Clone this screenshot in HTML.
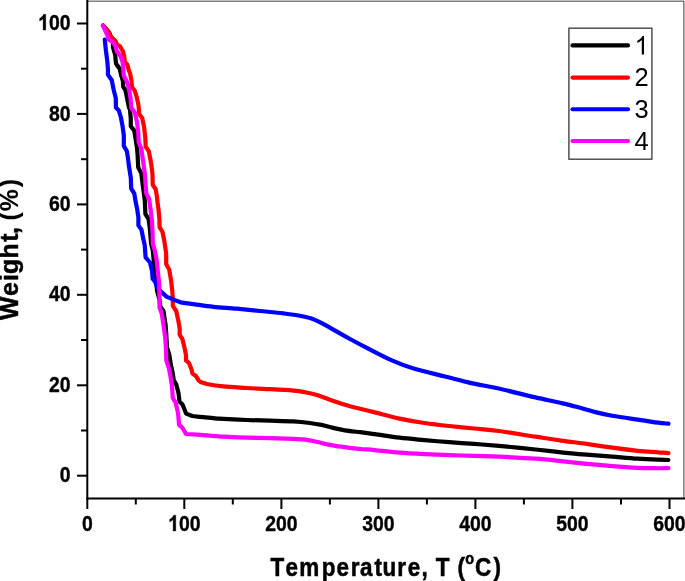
<!DOCTYPE html>
<html><head><meta charset="utf-8">
<style>
html,body{margin:0;padding:0;background:#fff;}
body{width:685px;height:581px;overflow:hidden;}
svg{display:block;will-change:transform;}
text{font-family:"Liberation Sans",sans-serif;fill:#000;}
.tl{font-size:20px;font-weight:bold;stroke:#000;stroke-width:0.35px;}
.t{stroke:#000;stroke-width:2;}
.c{fill:none;stroke-width:4.2;stroke-linecap:round;stroke-linejoin:round;}
.ax{font-size:22.5px;font-weight:bold;}
.lg{font-size:25.5px;}
.bd{stroke:#000;stroke-width:0.45px;}
</style></head><body>
<svg width="685" height="581" viewBox="0 0 685 581">
<rect width="685" height="581" fill="#fff"/>
<!-- gray frame top/right -->
<g shape-rendering="crispEdges">
<rect x="88" y="0" width="596" height="1" fill="#bcbcbc"/>
<rect x="88" y="1" width="596" height="1" fill="#828282"/>
<rect x="683" y="1" width="1" height="497" fill="#858585"/>
<rect x="684" y="1" width="1" height="497" fill="#b4b4b4"/>
<rect x="683" y="1" width="1" height="1" fill="#5a5a5a"/>
</g>
<!-- curves -->
<path class="c" stroke="#000" d="M103.0,25.5 L109.1,32.3 L112.9,42.0 L113.0,47.1 L115.2,55.0 L116.0,63.5 L118.6,67.3 L119.7,68.9 L121.0,74.6 L122.9,80.8 L123.2,86.9 L125.4,90.0 L127.1,98.3 L128.9,107.0 L130.0,110.0 L130.8,118.8 L130.8,126.2 L134.3,130.6 L135.6,138.9 L137.0,147.7 L137.6,155.0 L138.2,167.3 L141.3,173.4 L142.6,183.9 L143.9,193.5 L144.8,200.5 L145.4,214.0 L148.5,218.8 L149.8,228.0 L150.6,237.7 L151.1,243.8 L152.8,250.3 L153.5,258.1 L154.8,271.3 L156.1,280.0 L157.0,290.5 L159.5,300.0 L160.5,307.0 L163.5,311.0 L165.6,325.0 L166.3,335.0 L167.0,347.3 L169.2,354.3 L170.9,364.8 L172.8,373.5 L173.7,380.0 L176.2,384.3 L178.5,393.1 L179.5,401.5 L182.5,404.5 L186.1,413.6 L192.3,416.0 C194.1,416.2 199.4,416.8 203.2,417.2 C207.0,417.6 211.6,418.1 215.0,418.4 C218.4,418.7 218.1,418.6 223.4,418.9 C228.7,419.2 238.9,419.7 246.7,420.0 C254.5,420.3 262.3,420.5 270.1,420.7 C277.9,420.9 286.8,421.0 293.4,421.4 C300.0,421.8 305.1,422.4 309.8,423.0 C314.5,423.6 317.6,424.1 321.5,424.9 C325.4,425.7 329.2,427.0 333.1,427.9 C337.0,428.8 340.3,429.6 344.8,430.3 C349.3,431.0 355.0,431.6 360.0,432.2 C365.0,432.8 368.2,433.3 374.8,434.2 C381.4,435.1 391.3,436.7 399.6,437.7 C407.9,438.7 416.2,439.4 424.5,440.2 C432.8,440.9 441.0,441.6 449.3,442.2 C457.6,442.8 465.8,443.3 474.1,443.9 C482.4,444.5 488.7,445.0 498.9,445.9 C509.1,446.8 525.1,448.4 535.5,449.5 C545.9,450.6 552.6,451.4 561.1,452.3 C569.6,453.2 578.1,453.9 586.6,454.6 C595.1,455.3 603.7,455.9 612.2,456.6 C620.7,457.3 630.0,458.2 637.7,458.7 C645.4,459.2 653.1,459.5 658.2,459.7 C663.3,459.9 666.7,459.9 668.4,460.0"/>
<path class="c" stroke="#f00" d="M103.0,25.3 L108.1,31.4 L111.2,37.1 L115.6,41.0 L116.9,44.5 L120.0,46.3 L123.0,51.5 L124.3,56.8 L124.8,62.0 L127.4,64.7 L128.7,70.0 L130.2,73.8 L131.5,80.8 L132.0,87.3 L134.6,90.4 L136.8,97.4 L138.5,105.3 L138.9,110.0 L139.2,113.9 L142.2,117.9 L144.0,126.6 L145.3,138.0 L145.7,146.8 L148.8,151.2 L150.5,160.0 L151.3,164.6 L152.5,174.3 L152.7,184.8 L155.7,189.2 L157.0,197.0 L157.5,202.0 L158.5,209.6 L159.4,219.3 L159.6,227.1 L162.5,232.0 L164.2,240.3 L165.2,247.0 L166.2,253.8 L166.2,264.3 L169.2,269.5 L171.0,280.0 L172.3,291.0 L172.8,298.8 L172.8,305.8 L176.2,311.0 L178.3,320.6 L179.7,328.5 L179.7,334.7 L182.4,339.2 L184.2,346.4 L186.0,355.1 L186.0,360.4 L189.0,363.0 L191.7,370.0 L192.5,373.5 L195.6,375.7 L198.7,380.5 L200.5,382.0 L207.0,384.0 C209.7,384.4 216.8,385.7 223.4,386.4 C230.0,387.1 238.9,387.5 246.7,388.0 C254.5,388.5 262.3,388.8 270.1,389.2 C277.9,389.6 287.6,390.1 293.4,390.6 C299.2,391.1 301.2,391.5 305.1,392.2 C309.0,392.9 312.9,393.8 316.8,395.0 C320.7,396.2 324.6,397.8 328.5,399.2 C332.4,400.6 336.3,401.9 340.2,403.2 C344.1,404.4 346.0,405.2 351.8,406.7 C357.6,408.2 366.8,410.4 374.8,412.4 C382.8,414.4 391.3,416.8 399.6,418.6 C407.9,420.4 416.2,421.8 424.5,423.0 C432.8,424.2 441.0,425.1 449.3,426.0 C457.6,426.9 465.8,427.7 474.1,428.5 C482.4,429.3 488.7,429.6 498.9,431.0 C509.1,432.4 525.1,435.1 535.5,436.7 C545.9,438.3 552.6,439.4 561.1,440.6 C569.6,441.8 578.1,442.7 586.6,443.9 C595.1,445.1 603.7,446.5 612.2,447.7 C620.7,448.9 630.0,450.0 637.7,450.8 C645.4,451.6 653.1,451.9 658.2,452.3 C663.3,452.7 666.7,453.0 668.4,453.1"/>
<path class="c" stroke="#00f" d="M104.8,39.7 L105.9,50.6 L107.3,61.2 L108.0,70.0 L107.9,74.6 L111.8,80.3 L113.6,89.5 L115.8,98.3 L115.9,107.5 L118.8,110.5 L120.8,117.0 L122.5,125.8 L123.8,135.4 L123.8,145.9 L126.9,151.2 L128.2,160.0 L129.0,166.4 L130.8,177.8 L131.2,188.7 L134.3,193.5 L135.3,200.0 L137.1,208.8 L138.4,217.5 L138.4,225.4 L141.5,229.8 L143.2,238.5 L144.7,245.0 L145.6,257.3 L150.0,262.5 L152.1,271.3 L152.6,278.7 L155.2,281.8 L157.0,287.0 L160.0,290.5 L161.3,291.8 L166.5,296.6 L173.5,299.6 L180.5,302.3 L187.5,303.3 L195.0,304.3 C198.1,304.7 206.5,306.1 213.4,306.8 C220.3,307.5 228.9,308.0 236.7,308.7 C244.5,309.4 252.3,310.2 260.1,311.0 C267.9,311.8 276.8,312.6 283.4,313.4 C290.0,314.2 295.1,314.8 299.8,315.7 C304.5,316.6 308.0,317.3 311.5,318.5 C315.0,319.7 317.7,321.1 320.8,322.7 C323.9,324.2 327.0,326.0 330.2,327.8 C333.4,329.6 336.7,331.5 340.0,333.4 C343.3,335.3 345.6,336.6 350.0,339.0 C354.4,341.4 359.2,344.0 366.3,347.6 C373.4,351.2 384.6,357.2 392.5,360.7 C400.4,364.2 404.8,366.0 413.6,368.6 C422.4,371.2 435.5,374.1 445.1,376.5 C454.7,378.9 462.6,381.1 471.4,383.1 C480.1,385.1 486.9,385.9 497.6,388.3 C508.3,390.7 524.9,394.9 535.5,397.4 C546.1,399.8 554.3,401.4 561.1,403.0 C567.9,404.6 570.9,405.3 576.4,406.8 C581.9,408.3 588.3,410.4 594.3,411.9 C600.3,413.4 605.0,414.5 612.2,415.8 C619.4,417.1 630.0,418.5 637.7,419.6 C645.4,420.8 653.1,422.0 658.2,422.7 C663.3,423.4 666.7,423.5 668.4,423.7"/>
<path class="c" stroke="#f0f" d="M102.9,25.7 L106.8,34.0 L109.0,39.7 L112.5,41.9 L115.6,46.3 L116.9,51.5 L120.0,55.0 L122.6,62.0 L122.9,65.0 L123.8,75.5 L127.1,82.1 L129.3,90.4 L130.6,98.3 L131.3,107.9 L135.0,112.7 L137.0,122.3 L138.3,132.8 L138.7,142.4 L141.3,148.5 L142.9,160.0 L143.5,163.8 L144.8,173.4 L145.6,183.9 L146.3,193.5 L149.1,198.8 L150.6,209.6 L152.0,221.0 L152.6,233.3 L152.8,243.8 L154.8,250.3 L156.5,259.0 L157.8,271.3 L159.2,283.5 L159.5,299.6 L159.5,307.5 L161.7,313.6 L163.5,325.0 L165.1,337.0 L165.8,345.5 L166.3,360.4 L168.9,368.3 L170.4,376.0 L171.9,385.8 L172.8,397.9 L175.7,402.7 L178.1,413.6 L179.1,425.0 L182.1,427.4 L186.1,434.0 L197.2,434.6 C200.2,434.9 210.6,435.8 215.0,436.1 C219.4,436.5 218.1,436.4 223.4,436.7 C228.7,437.0 238.9,437.4 246.7,437.7 C254.5,437.9 262.3,438.0 270.1,438.2 C277.9,438.4 287.6,438.7 293.4,438.9 C299.2,439.1 301.6,439.2 305.1,439.6 C308.6,440.0 311.4,440.5 314.5,441.2 C317.6,441.9 320.3,442.8 323.8,443.6 C327.3,444.4 331.2,445.2 335.5,445.9 C339.8,446.6 345.4,447.3 349.5,447.8 C353.6,448.3 355.8,448.6 360.0,449.0 C364.2,449.4 368.2,449.5 374.8,450.1 C381.4,450.7 391.3,451.9 399.6,452.6 C407.9,453.3 416.2,453.7 424.5,454.1 C432.8,454.5 441.0,454.8 449.3,455.1 C457.6,455.4 465.8,455.6 474.1,455.8 C482.4,456.1 488.7,456.1 498.9,456.6 C509.1,457.1 525.1,457.9 535.5,458.7 C545.9,459.5 552.6,460.3 561.1,461.2 C569.6,462.1 578.1,463.0 586.6,463.8 C595.1,464.6 603.7,465.4 612.2,466.1 C620.7,466.8 630.9,467.5 637.7,467.8 C644.5,468.1 648.0,468.1 653.1,468.2 C658.2,468.3 665.9,468.2 668.4,468.2"/>
<!-- axes -->
<line x1="87.3" y1="0" x2="87.3" y2="499.4" class="t"/>
<line x1="86.3" y1="498.4" x2="685" y2="498.4" class="t"/>
<line x1="87.3" y1="498.4" x2="87.3" y2="509" class="t"/>
<text transform="translate(81.91,531.0) scale(0.97,1.1)" class="tl">0</text>
<line x1="135.8" y1="498.4" x2="135.8" y2="504.5" class="t"/>
<line x1="184.3" y1="498.4" x2="184.3" y2="509" class="t"/>
<path transform="translate(168.15,531.0) scale(0.009473,-0.010742)" d="M806 0L525 0L525 1059Q371 915 162 846L162 1101Q272 1137 401 1237.5Q530 1338 578 1472L806 1472Z" fill="#000" stroke="#000" stroke-width="0.35" vector-effect="non-scaling-stroke"/><text transform="translate(178.94,531.0) scale(0.97,1.1)" class="tl">00</text>
<line x1="232.8" y1="498.4" x2="232.8" y2="504.5" class="t"/>
<line x1="281.4" y1="498.4" x2="281.4" y2="509" class="t"/>
<text transform="translate(265.18,531.0) scale(0.97,1.1)" class="tl">200</text>
<line x1="329.9" y1="498.4" x2="329.9" y2="504.5" class="t"/>
<line x1="378.4" y1="498.4" x2="378.4" y2="509" class="t"/>
<text transform="translate(362.21,531.0) scale(0.97,1.1)" class="tl">300</text>
<line x1="426.9" y1="498.4" x2="426.9" y2="504.5" class="t"/>
<line x1="475.4" y1="498.4" x2="475.4" y2="509" class="t"/>
<text transform="translate(459.24,531.0) scale(0.97,1.1)" class="tl">400</text>
<line x1="523.9" y1="498.4" x2="523.9" y2="504.5" class="t"/>
<line x1="572.4" y1="498.4" x2="572.4" y2="509" class="t"/>
<text transform="translate(556.27,531.0) scale(0.97,1.1)" class="tl">500</text>
<line x1="621.0" y1="498.4" x2="621.0" y2="504.5" class="t"/>
<line x1="669.5" y1="498.4" x2="669.5" y2="509" class="t"/>
<text transform="translate(653.30,531.0) scale(0.97,1.1)" class="tl">600</text>
<line x1="77" y1="475.7" x2="87" y2="475.7" class="t"/>
<text transform="translate(59.71,482.3) scale(0.97,1.1)" class="tl">0</text>
<line x1="81" y1="430.5" x2="87" y2="430.5" class="t"/>
<line x1="77" y1="385.3" x2="87" y2="385.3" class="t"/>
<text transform="translate(48.92,391.9) scale(0.97,1.1)" class="tl">20</text>
<line x1="81" y1="340.0" x2="87" y2="340.0" class="t"/>
<line x1="77" y1="294.8" x2="87" y2="294.8" class="t"/>
<text transform="translate(48.92,301.4) scale(0.97,1.1)" class="tl">40</text>
<line x1="81" y1="249.6" x2="87" y2="249.6" class="t"/>
<line x1="77" y1="204.4" x2="87" y2="204.4" class="t"/>
<text transform="translate(48.92,211.0) scale(0.97,1.1)" class="tl">60</text>
<line x1="81" y1="159.2" x2="87" y2="159.2" class="t"/>
<line x1="77" y1="113.9" x2="87" y2="113.9" class="t"/>
<text transform="translate(48.92,120.5) scale(0.97,1.1)" class="tl">80</text>
<line x1="81" y1="68.7" x2="87" y2="68.7" class="t"/>
<line x1="77" y1="23.5" x2="87" y2="23.5" class="t"/>
<path transform="translate(38.13,30.1) scale(0.009473,-0.010742)" d="M806 0L525 0L525 1059Q371 915 162 846L162 1101Q272 1137 401 1237.5Q530 1338 578 1472L806 1472Z" fill="#000" stroke="#000" stroke-width="0.35" vector-effect="non-scaling-stroke"/><text transform="translate(48.92,30.1) scale(0.97,1.1)" class="tl">00</text>
<!-- legend -->
<rect x="568.9" y="28.2" width="83" height="131" fill="#fff" stroke="#444" stroke-width="1.4"/>
<line x1="572.5" y1="45.4" x2="628" y2="45.4" stroke="#000" stroke-width="4.1" stroke-linecap="round"/>
<line x1="572.5" y1="77.6" x2="628" y2="77.6" stroke="#f00" stroke-width="4.1" stroke-linecap="round"/>
<line x1="572.5" y1="109.3" x2="628" y2="109.3" stroke="#00f" stroke-width="4.1" stroke-linecap="round"/>
<line x1="572.5" y1="141" x2="628" y2="141" stroke="#f0f" stroke-width="4.1" stroke-linecap="round"/>
<path transform="translate(634.5,54.4) scale(0.01245,-0.01245)" d="M763 0L583 0L583 1147Q518 1085 412.5 1023Q307 961 223 930L223 1104Q374 1175 487 1276Q600 1377 647 1472L763 1472Z" fill="#000"/>
<text x="634.4" y="86.4" class="lg">2</text>
<text x="634.4" y="118.2" class="lg">3</text>
<text x="634.4" y="150" class="lg">4</text>
<!-- axis titles -->
<text transform="translate(0,575.6) scale(1,1.17)" class="ax bd" x="270.4 285.6 299.2 321.8 336.4 350.8 359.9 374.5 382.4 397.2 407.8 421.6 427.8 435.7 449.5 457.6" y="0">Temperature, T (<tspan font-size="14.5" x="465.3" dy="-10">o</tspan><tspan x="475.1 493.6" dy="10">C)</tspan></text>
<text class="ax bd" style="font-size:24.8px" transform="translate(18.1,319.9) rotate(-90) scale(1,1.005)" x="0.0 23.9 38.9 45.9 61.4 78.2 86.0 93.2 99.4 108.7 132.7" y="0">Weight, <tspan style="stroke-width:0.1px">(%)</tspan></text>
</svg>
</body></html>
